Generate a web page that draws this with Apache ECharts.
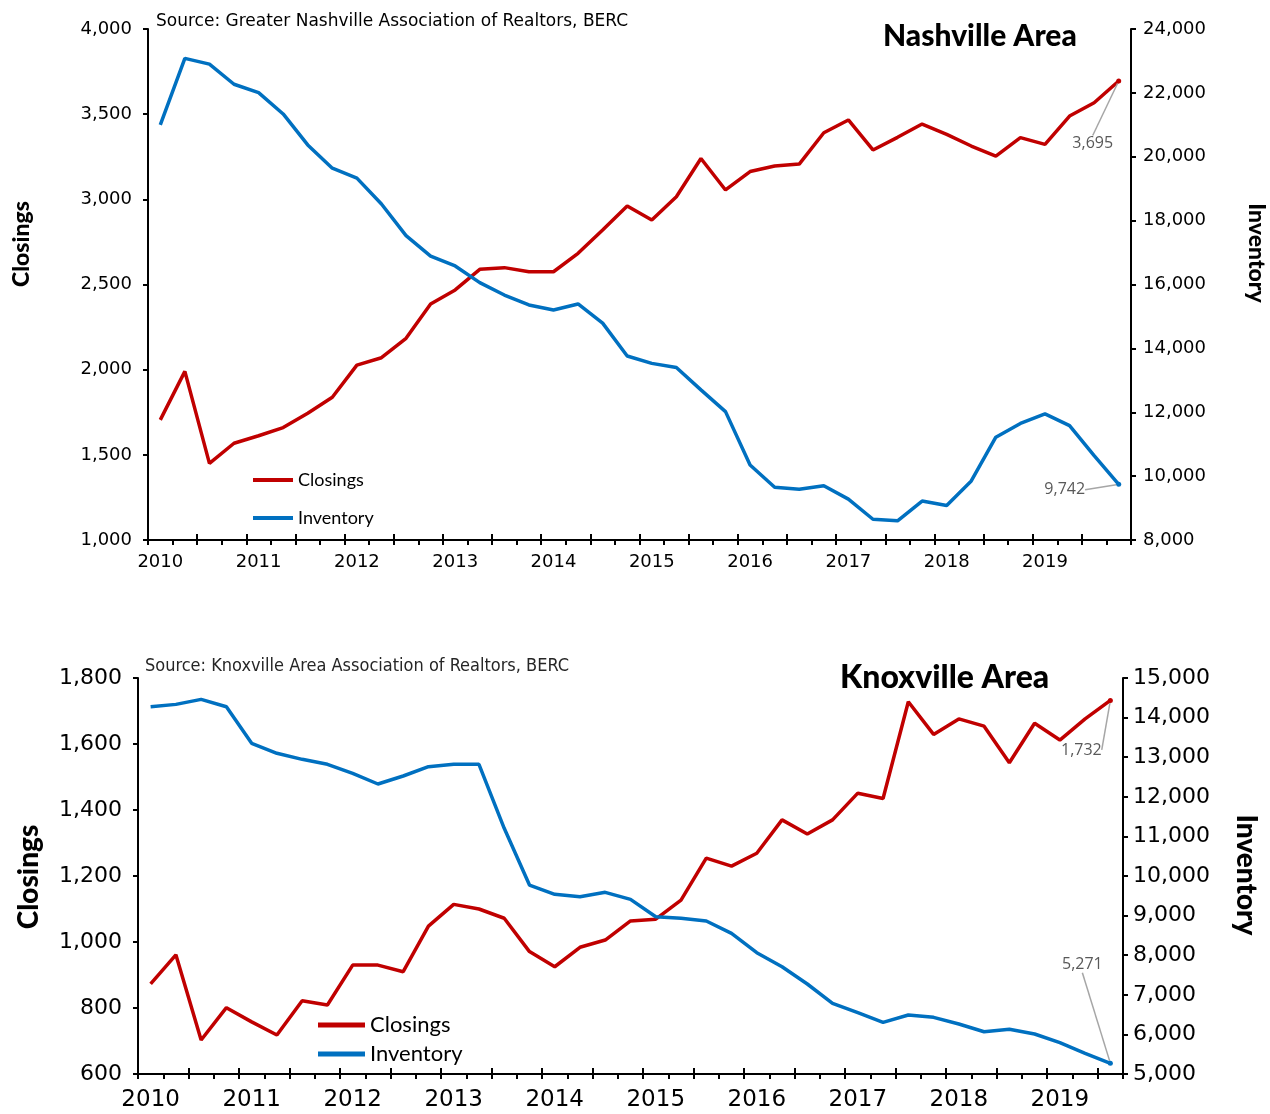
<!DOCTYPE html>
<html>
<head>
<meta charset="utf-8">
<script src="https://cdn.jsdelivr.net/npm/echarts@6/dist/echarts.min.js"></script>
<style>
html, body { margin: 0; padding: 0; background: #fff; }
#chart { width: 1270px; height: 1114px; }
</style>
</head>
<body>
<div id="chart"></div>
<script>
// quarterly categories
var nashQuarters = [
  '2010Q1','2010Q2','2010Q3','2010Q4','2011Q1','2011Q2','2011Q3','2011Q4',
  '2012Q1','2012Q2','2012Q3','2012Q4','2013Q1','2013Q2','2013Q3','2013Q4',
  '2014Q1','2014Q2','2014Q3','2014Q4','2015Q1','2015Q2','2015Q3','2015Q4',
  '2016Q1','2016Q2','2016Q3','2016Q4','2017Q1','2017Q2','2017Q3','2017Q4',
  '2018Q1','2018Q2','2018Q3','2018Q4','2019Q1','2019Q2','2019Q3','2019Q4'
];
var knoxQuarters = nashQuarters.slice(0, 39);

// Nashville
var nashClosings = [1705, 1990, 1450, 1568, 1612, 1660, 1744, 1838, 2027, 2070,
  2184, 2386, 2468, 2589, 2599, 2575, 2575, 2683, 2820, 2961,
  2879, 3015, 3240, 3055, 3163, 3196, 3207, 3391, 3466, 3290,
  3364, 3442, 3381, 3313, 3254, 3362, 3323, 3489, 3567, 3695];
var nashInventory = [21000, 23080, 22900, 22270, 22010, 21340, 20370, 19640, 19330, 18520,
  17530, 16890, 16580, 16060, 15670, 15360, 15200, 15390, 14790, 13760,
  13530, 13400, 12700, 12020, 10350, 9650, 9590, 9700, 9280, 8650,
  8600, 9220, 9080, 9850, 11220, 11650, 11950, 11580, 10640, 9742];

// Knoxville
var knoxClosings = [873, 961, 703, 801, 758, 718, 822, 809, 930, 930,
  910, 1048, 1114, 1100, 1072, 971, 925, 984, 1006, 1064,
  1069, 1127, 1254, 1230, 1269, 1370, 1327, 1370, 1451, 1435,
  1728, 1629, 1676, 1654, 1543, 1663, 1612, 1676, 1732];
var knoxInventory = [14275, 14334, 14461, 14275, 13350, 13098, 12946, 12820, 12593, 12323,
  12525, 12760, 12820, 12820, 11204, 9772, 9537, 9477, 9588, 9411,
  8972, 8931, 8863, 8552, 8063, 7710, 7273, 6785, 6548, 6305,
  6490, 6431, 6262, 6068, 6128, 6010, 5790, 5523, 5271];

var RED = '#C00000', BLUE = '#0070C0';
var NUM_FONT = 'DejaVu Sans';
var TXT_FONT = 'Lato';

function fmt(v) { return Number(v).toLocaleString('en-US'); }

function catAxes(grid, cats, size, margin) {
  return [{
    type: 'category', gridIndex: grid, data: cats, position: 'bottom', boundaryGap: true,
    axisLine: { show: true, lineStyle: { color: '#000', width: 2 } },
    axisTick: { show: true, interval: 0, length: 5, lineStyle: { color: '#000', width: 2 } },
    axisLabel: { interval: 3, margin: margin, fontSize: size, color: '#000', fontFamily: NUM_FONT,
      formatter: function (v) { return v.slice(0, 4); } },
    splitLine: { show: false }
  }, {
    // longer half-year ticks crossing up into the plot
    type: 'category', gridIndex: grid, data: cats, position: 'bottom', boundaryGap: true,
    axisLine: { show: false }, axisLabel: { show: false }, splitLine: { show: false },
    axisTick: { show: true, inside: true, interval: 1, length: 6, lineStyle: { color: '#000', width: 2 } }
  }];
}

function valAxis(grid, pos, min, max, step, size, margin) {
  return {
    type: 'value', gridIndex: grid, position: pos, min: min, max: max, interval: step,
    axisLine: { show: true, lineStyle: { color: '#000', width: 2 } },
    axisTick: { show: true, length: 5, lineStyle: { color: '#000', width: 2 } },
    axisLabel: { margin: margin, fontSize: size, color: '#000', fontFamily: NUM_FONT, formatter: fmt },
    splitLine: { show: false }
  };
}

function endPoint(values) {
  var last = values.length - 1;
  return values.map(function (v, i) {
    return i === last ? { value: v, symbolSize: 5, label: { show: true } } : v;
  });
}

function lineSeries(name, color, xi, yi, values, dx, dy) {
  return {
    name: name, type: 'line', xAxisIndex: xi, yAxisIndex: yi,
    data: endPoint(values),
    symbol: 'circle', symbolSize: 0, showSymbol: true,
    lineStyle: { color: color, width: 3.5 },
    itemStyle: { color: color },
    label: { show: false, position: 'top', color: '#595959', fontSize: 16, fontFamily: 'Open Sans',
      formatter: function (p) { return fmt(p.value); } },
    labelLine: { show: true, lineStyle: { color: '#A6A6A6', width: 1.5 } },
    labelLayout: { dx: dx, dy: dy },
    emphasis: { disabled: true },
    silent: true
  };
}

function rotText(text, x, y, rot, size) {
  return {
    type: 'text', x: x, y: y, rotation: rot,
    style: { text: text, fill: '#000', font: '900 ' + size + 'px ' + TXT_FONT,
      align: 'center', verticalAlign: 'middle' }
  };
}

var chart = echarts.init(document.getElementById('chart'));
chart.setOption({
  animation: false,
  backgroundColor: '#fff',
  title: [
    { text: 'Source: Greater Nashville Association of Realtors, BERC', left: 156, top: 13, padding: 0,
      textStyle: { fontSize: 17, fontWeight: 'normal', color: '#000', fontFamily: NUM_FONT } },
    { text: 'Nashville Area', left: 883, top: 21, padding: 0,
      textStyle: { fontSize: 30, fontWeight: 900, color: '#000', fontFamily: TXT_FONT } },
    { text: 'Source: Knoxville Area Association of Realtors, BERC', left: 145, top: 657, padding: 0,
      textStyle: { fontSize: 18, fontWeight: 'normal', color: '#262626',
        fontFamily: "'Liberation Sans Narrow', 'DejaVu Sans Condensed', Roboto" } },
    { text: 'Knoxville Area', left: 840, top: 662, padding: 0,
      textStyle: { fontSize: 32, fontWeight: 900, color: '#000', fontFamily: TXT_FONT } }
  ],
  legend: [
    { left: 253, top: 471, padding: 0, orient: 'vertical', icon: 'rect', itemWidth: 40, itemHeight: 4, itemGap: 20,
      data: ['Closings', 'Inventory'],
      textStyle: { fontSize: 18, color: '#000', fontFamily: TXT_FONT } },
    { left: 318, top: 1014, padding: 0, orient: 'vertical', icon: 'rect', itemWidth: 47, itemHeight: 5, itemGap: 7,
      data: ['Closings', 'Inventory'],
      textStyle: { fontSize: 22, color: '#000', fontFamily: TXT_FONT } }
  ],
  grid: [
    { left: 148, top: 29, width: 983, height: 511, outerBoundsMode: 'none' },
    { left: 138, top: 678, width: 985, height: 396, outerBoundsMode: 'none' }
  ],
  xAxis: catAxes(0, nashQuarters, 18, 13).concat(catAxes(1, knoxQuarters, 23, 15)),
  yAxis: [
    valAxis(0, 'left', 1000, 4000, 500, 18, 16),
    valAxis(0, 'right', 8000, 24000, 2000, 18, 12),
    valAxis(1, 'left', 600, 1800, 200, 22, 16),
    valAxis(1, 'right', 5000, 15000, 1000, 22, 10)
  ],
  series: [
    lineSeries('Closings', RED, 0, 0, nashClosings, -26, 78),
    lineSeries('Inventory', BLUE, 0, 1, nashInventory, -54, 21),
    lineSeries('Closings', RED, 2, 2, knoxClosings, -29, 65),
    lineSeries('Inventory', BLUE, 2, 3, knoxInventory, -28, -83)
  ],
  graphic: [
    rotText('Closings', 22, 244, Math.PI / 2, 23),
    rotText('Inventory', 1256, 253, -Math.PI / 2, 23),
    rotText('Closings', 29, 877, Math.PI / 2, 28),
    rotText('Inventory', 1246, 875, -Math.PI / 2, 28)
  ]
});
</script>
</body>
</html>
